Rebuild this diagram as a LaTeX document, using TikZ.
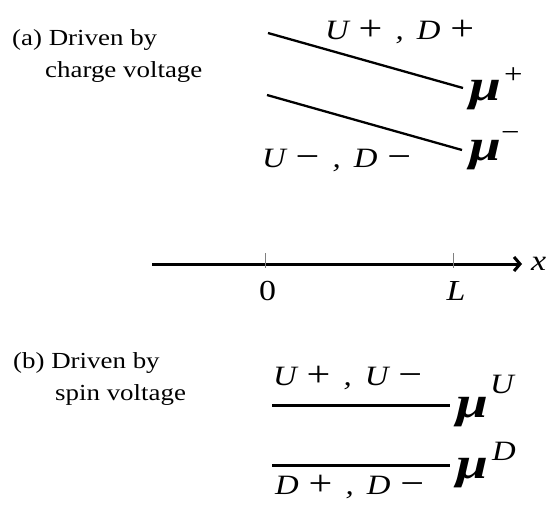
\documentclass[tikz,border=0pt]{standalone}
\usepackage{fontspec}
\usepackage{graphicx}
\setmainfont{Liberation Serif}
\usetikzlibrary{arrows.meta}
% horizontally widened text, as in the figure
\newcommand{\wide}[1]{\scalebox{1.17}[1]{#1}}
% #1 raise, #2 kern, #3 superscript
\newcommand{\chempot}[3]{\scalebox{1.3}[1]{\fontsize{44}{44}\selectfont\bfseries\itshape μ}\hspace{#2}\raisebox{#1}{\wide{\fontsize{28}{28}\selectfont #3}}}
\newcommand{\sgn}[1]{{\upshape\fontsize{36}{36}\selectfont\raisebox{-1pt}{#1}}}
\newcommand{\bandpair}[4]{\wide{\itshape #1\hspace{0.3em}\sgn{#2}\hspace{0.4em},\hspace{0.4em}\itshape #3\hspace{0.3em}\sgn{#4}}}
\begin{document}
\begin{tikzpicture}[x=1pt, y=-1pt,
  note/.style={font=\fontsize{23}{28}\selectfont, anchor=base west, inner sep=0pt},
  band/.style={font=\fontsize{28}{30}\selectfont, anchor=base west, inner sep=0pt},
  axlbl/.style={font=\fontsize{29}{30}\selectfont, anchor=base, inner sep=0pt},
  pot/.style={anchor=base west, inner sep=0pt},
  level/.style={line width=2.3pt}]
\useasboundingbox (0,0) rectangle (551,504);
% (a) charge voltage
\node[note] (capA) at (12,45) {\wide{(a) Driven by}};
\node[note] (capA2) at (45,77) {\wide{charge voltage}};
\coordinate (pL) at (268,33);
\coordinate (pR) at (463,88);
\coordinate (mL) at (267,95);
\coordinate (mR) at (462,150);
\draw[level] (pL) -- (pR);
\draw[level] (mL) -- (mR);
\node[band] (pLbl) at (325,39) {\bandpair{U}{+}{D}{+}};
\node[band] (mLbl) at (262,167) {\bandpair{U}{−}{D}{−}};
\node[pot] (muP) at (469,100) {\chempot{17pt}{3pt}{+}};
\node[pot] (muM) at (469,160) {\chempot{19pt}{0pt}{−}};
% axis
\coordinate (xA) at (152,264);
\coordinate (xB) at (522,264);
\draw[line width=3pt, -{Straight Barb[length=6pt,width=14pt]}] (xA) -- (xB);
\draw[gray, line width=1pt] (265,253) -- (265,268) (453,253) -- (453,268);
\node[axlbl] (zero) at (267.5,300) {\wide{0}};
\node[axlbl] (ell) at (456,300) {\wide{\itshape L}};
\node[axlbl, anchor=base west] (xlbl) at (531,270) {\wide{\itshape x}};
% (b) spin voltage
\node[note] (capB) at (13,368) {\wide{(b) Driven by}};
\node[note] (capB2) at (55,400) {\wide{spin voltage}};
\coordinate (uL) at (272,405);
\coordinate (uR) at (450,405);
\coordinate (dL) at (272,465);
\coordinate (dR) at (450,465);
\draw[line width=3pt] (uL) -- (uR);
\draw[line width=3pt] (dL) -- (dR);
\node[band] (uLbl) at (273,385) {\bandpair{U}{+}{U}{−}};
\node[band] (dLbl) at (275,494) {\bandpair{D}{+}{D}{−}};
\node[pot] (muU) at (456,417) {\chempot{24pt}{2pt}{\itshape U}};
\node[pot] (muD) at (456,478) {\chempot{18pt}{4pt}{\itshape D}};
\end{tikzpicture}
\end{document}
